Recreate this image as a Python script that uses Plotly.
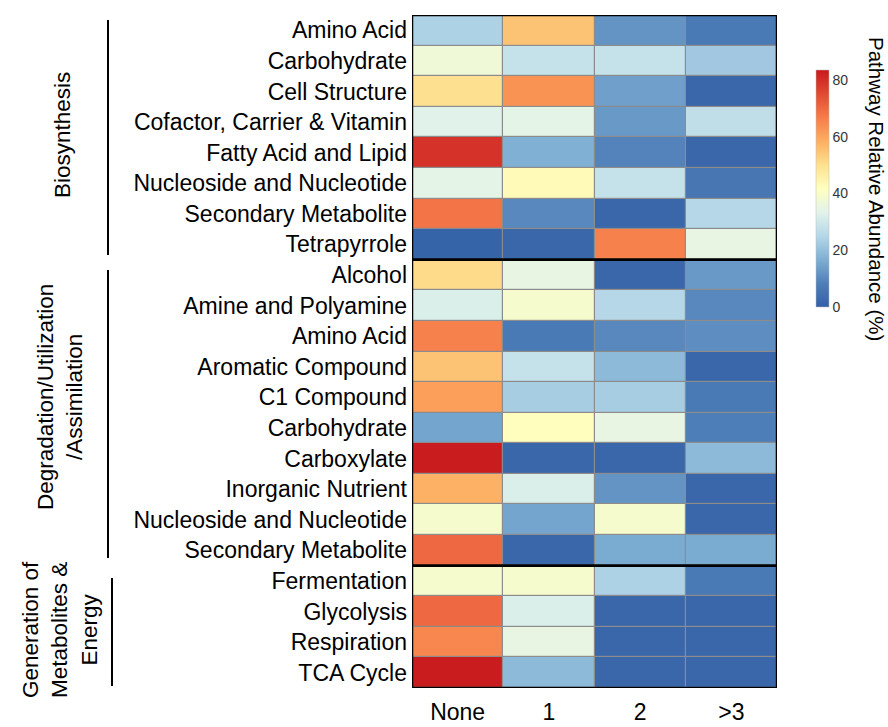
import plotly.graph_objects as go

# Pathway categories (top to bottom) and their groups
pathways = [
    "Amino Acid", "Carbohydrate", "Cell Structure", "Cofactor, Carrier & Vitamin",
    "Fatty Acid and Lipid", "Nucleoside and Nucleotide", "Secondary Metabolite", "Tetrapyrrole",
    "Alcohol", "Amine and Polyamine", "Amino Acid", "Aromatic Compound", "C1 Compound",
    "Carbohydrate", "Carboxylate", "Inorganic Nutrient", "Nucleoside and Nucleotide",
    "Secondary Metabolite",
    "Fermentation", "Glycolysis", "Respiration", "TCA Cycle",
]
group_names = ["Biosynthesis", "Degradation/Utilization<br>/Assimilation",
               "Generation of<br>Metabolites &<br>Energy"]
group_sizes = [8, 10, 4]

columns = ["None", "1", "2", ">3"]

# Relative abundance (%) per pathway, one list per column
col_none = [24, 37, 50, 33, 79, 34, 68, 1,
            51, 32, 66, 55, 61, 15, 83, 58, 39, 70,
            39, 70, 65, 83]
col_1 = [55, 28, 63, 34, 17, 43, 10, 2,
         35, 39, 7, 28, 23, 42, 2, 32, 15, 2,
         39, 32, 35, 19]
col_2 = [12, 28, 14, 13, 9, 28, 2, 66,
         2, 25, 10, 19, 23, 35, 2, 12, 39, 16,
         24, 2, 2, 2]
col_3 = [7, 22, 2, 27, 2, 6, 25, 35,
         13, 10, 11, 2, 7, 8, 19, 2, 2, 16,
         7, 2, 2, 2]

cbar_ticks = [0, 20, 40, 60, 80]

z = [[a, b, c, d] for a, b, c, d in zip(col_none, col_1, col_2, col_3)]

colorscale = [
    [0.00, "#3360a6"],
    [0.10, "#4f7fb8"],
    [0.20, "#7eafd3"],
    [0.30, "#b5d7e8"],
    [0.40, "#e2f3ea"],
    [0.50, "#ffffbf"],
    [0.60, "#fee090"],
    [0.70, "#fdae61"],
    [0.80, "#f67c4a"],
    [0.90, "#e04a32"],
    [1.00, "#c8191e"],
]

FONT = "Liberation Sans, Arial"
W, H = 888, 727
L, R, T, B = 412, 111, 15, 39
PW, PH = W - L - R, H - T - B


def px_x(px):
    return (px - L) / PW


def px_y(py):
    return 1 - (py - T) / PH


fig = go.Figure()
fig.add_trace(go.Heatmap(
    z=z,
    x=list(range(len(columns))),
    y=list(range(len(pathways))),
    colorscale=colorscale,
    zmin=0, zmax=83.5,
    xgap=1.2, ygap=1.2,
    showscale=True,
    colorbar=dict(
        x=px_x(816), xanchor="left", xpad=0,
        y=px_y(188.5), yanchor="middle", ypad=0,
        len=237 / PH, lenmode="fraction",
        thickness=13,
        outlinewidth=0.5, outlinecolor="#bbbbbb",
        tickvals=cbar_ticks,
        ticks="",
        tickfont=dict(size=14, color="#333333", family=FONT),
    ),
))

# Thick black frames around each pathway group
shapes = []
start = 0
for n in group_sizes:
    shapes.append(dict(type="rect", xref="x", yref="y",
                       x0=-0.5, x1=len(columns) - 0.5,
                       y0=start - 0.5, y1=start + n - 0.5,
                       line=dict(color="black", width=2.5), fillcolor="rgba(0,0,0,0)"))
    start += n

# Group brackets and labels on the left
bracket = [(108, 20, 255), (108, 270, 558), (112, 578, 686)]
label_x = [62, 60, 60]
label_y = [135, 397, 630]
annotations = []
for (bx, y0, y1), lx, ly, name in zip(bracket, label_x, label_y, group_names):
    shapes.append(dict(type="line", xref="paper", yref="paper",
                       x0=px_x(bx), x1=px_x(bx), y0=px_y(y0), y1=px_y(y1),
                       line=dict(color="black", width=2)))
    annotations.append(dict(xref="paper", yref="paper", x=px_x(lx), y=px_y(ly),
                            text=name, showarrow=False, textangle=-90,
                            font=dict(size=22.5, color="black", family=FONT),
                            xanchor="center", yanchor="middle"))

annotations.append(dict(xref="paper", yref="paper", x=px_x(876), y=px_y(189),
                        text="Pathway Relative Abundance (%)", showarrow=False, textangle=90,
                        font=dict(size=20.5, color="black", family=FONT),
                        xanchor="center", yanchor="middle"))

fig.update_layout(
    width=W, height=H,
    margin=dict(l=L, r=R, t=T, b=B, pad=0, autoexpand=False),
    paper_bgcolor="white",
    plot_bgcolor="#8c8c8c",
    shapes=shapes,
    annotations=annotations,
    font=dict(family=FONT, color="black"),
)
fig.update_xaxes(
    range=[-0.5, len(columns) - 0.5],
    tickvals=list(range(len(columns))), ticktext=columns,
    ticks="", showgrid=False, zeroline=False, showline=False,
    tickfont=dict(size=23, color="black"),
    ticklabelstandoff=8,
    automargin=False,
)
fig.update_yaxes(
    range=[len(pathways) - 0.5, -0.5],
    tickvals=list(range(len(pathways))), ticktext=pathways,
    ticks="", showgrid=False, zeroline=False, showline=False,
    tickfont=dict(size=23, color="black"),
    ticklabelstandoff=4,
    automargin=False,
)

fig.write_html("out.html")
